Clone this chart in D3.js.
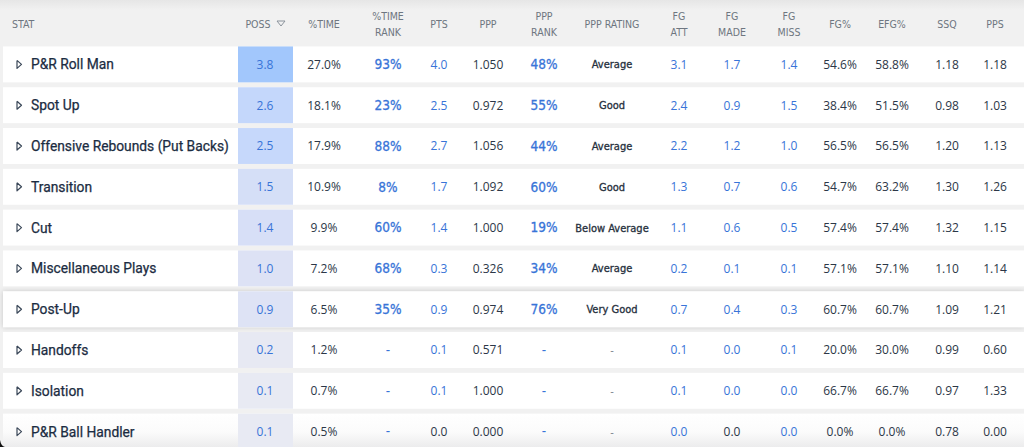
<!DOCTYPE html>
<html>
<head>
<meta charset="utf-8">
<script src="https://cdn.jsdelivr.net/npm/d3@7"></script>
<style>
  html, body { margin: 0; padding: 0; background: #f1f1f1; overflow: hidden; }
  svg { display: block; }
</style>
</head>
<body>
<div id="table"></div>
<script>
// play types, sorted by possessions
var categories = ["P&R Roll Man", "Spot Up", "Offensive Rebounds (Put Backs)", "Transition", "Cut",
  "Miscellaneous Plays", "Post-Up", "Handoffs", "Isolation", "P&R Ball Handler"];
var poss = [3.8, 2.6, 2.5, 1.5, 1.4, 1.0, 0.9, 0.2, 0.1, 0.1];
var pctTime = [27.0, 18.1, 17.9, 10.9, 9.9, 7.2, 6.5, 1.2, 0.7, 0.5];
var timeRank = [93, 23, 88, 8, 60, 68, 35, null, null, null];
var pts = [4.0, 2.5, 2.7, 1.7, 1.4, 0.3, 0.9, 0.1, 0.1, 0.0];
var ppp = [1.050, 0.972, 1.056, 1.092, 1.000, 0.326, 0.974, 0.571, 1.000, 0.000];
var pppRank = [48, 55, 44, 60, 19, 34, 76, null, null, null];
var pppRating = ["Average", "Good", "Average", "Good", "Below Average", "Average", "Very Good", null, null, null];
var fgAtt = [3.1, 2.4, 2.2, 1.3, 1.1, 0.2, 0.7, 0.1, 0.1, 0.0];
var fgMade = [1.7, 0.9, 1.2, 0.7, 0.6, 0.1, 0.4, 0.0, 0.0, 0.0];
var fgMiss = [1.4, 1.5, 1.0, 0.6, 0.5, 0.1, 0.3, 0.1, 0.0, 0.0];
var fgPct = [54.6, 38.4, 56.5, 54.7, 57.4, 57.1, 60.7, 20.0, 66.7, 0.0];
var efgPct = [58.8, 51.5, 56.5, 63.2, 57.4, 57.1, 60.7, 30.0, 66.7, 0.0];
var ssq = [1.18, 0.98, 1.20, 1.30, 1.32, 1.10, 1.09, 0.99, 0.97, 0.78];
var pps = [1.18, 1.03, 1.13, 1.26, 1.15, 1.14, 1.21, 0.60, 1.33, 0.00];

// header labels (two line ones split on |)
var headers = ["STAT", "POSS", "%TIME", "%TIME|RANK", "PTS", "PPP", "PPP|RANK", "PPP RATING",
  "FG|ATT", "FG|MADE", "FG|MISS", "FG%", "EFG%", "SSQ", "PPS"];

var width = 1024, height = 447;
var narrow = "'Liberation Sans Narrow', 'DejaVu Sans Condensed', sans-serif";

// column layout: key, center x, kind
var columns = [
  {key: "stat", x: 12},
  {key: "poss", x: 265, kind: "link"},
  {key: "pctTime", x: 324},
  {key: "timeRank", x: 388, kind: "rank"},
  {key: "pts", x: 439, kind: "link"},
  {key: "ppp", x: 488},
  {key: "pppRank", x: 544, kind: "rank"},
  {key: "pppRating", x: 612, kind: "rating"},
  {key: "fgAtt", x: 679, kind: "link"},
  {key: "fgMade", x: 732, kind: "link"},
  {key: "fgMiss", x: 789, kind: "link"},
  {key: "fgPct", x: 840},
  {key: "efgPct", x: 892},
  {key: "ssq", x: 947},
  {key: "pps", x: 995}
];

var fmt1 = d3.format(".1f"), fmt2 = d3.format(".2f"), fmt3 = d3.format(".3f");
var pct = function(v) { return fmt1(v) + "%"; };
var rk = function(v) { return v == null ? "-" : v + "%"; };

var rows = categories.map(function(c, i) {
  return {
    name: c, i: i,
    poss: fmt1(poss[i]), possVal: poss[i],
    pctTime: pct(pctTime[i]),
    timeRank: rk(timeRank[i]),
    pts: fmt1(pts[i]),
    ppp: fmt3(ppp[i]),
    pppRank: rk(pppRank[i]),
    pppRating: pppRating[i] == null ? "-" : pppRating[i],
    fgAtt: fmt1(fgAtt[i]),
    fgMade: fmt1(fgMade[i]),
    fgMiss: fmt1(fgMiss[i]),
    fgPct: pct(fgPct[i]),
    efgPct: pct(efgPct[i]),
    ssq: fmt2(ssq[i]),
    pps: fmt2(pps[i])
  };
});

// last row shows some zero cells as plain text
var plainCells = {"P&R Ball Handler": ["pts", "fgMade"]};

var y = d3.scaleBand().domain(categories).range([44, 44 + 10 * 40.8])
  .paddingInner(0.12).paddingOuter(0.06);
var possColor = d3.scaleLinear().domain([0.1, 1.0, 2.6, 3.8])
  .range(["#e8eaf3", "#dde2f5", "#c4d7fb", "#a2c7fc"]);

var svg = d3.select("#table").append("svg")
  .attr("width", width).attr("height", height);

var defs = svg.append("defs");
var f = defs.append("filter").attr("id", "lift")
  .attr("x", "-2%").attr("y", "-40%").attr("width", "104%").attr("height", "180%");
f.append("feDropShadow").attr("dx", 0).attr("dy", 0).attr("stdDeviation", 2.5)
  .attr("flood-color", "#000").attr("flood-opacity", 0.18);
var fade = defs.append("linearGradient").attr("id", "fade")
  .attr("x1", 0).attr("y1", 0).attr("x2", 0).attr("y2", 1);
fade.append("stop").attr("offset", "0%").attr("stop-color", "#ffffff");
fade.append("stop").attr("offset", "55%").attr("stop-color", "#fbfbfb");
fade.append("stop").attr("offset", "100%").attr("stop-color", "#ececed");
var topShade = defs.append("linearGradient").attr("id", "topShade")
  .attr("x1", 0).attr("y1", 0).attr("x2", 0).attr("y2", 1);
topShade.append("stop").attr("offset", "0%").attr("stop-color", "#e6e6e6");
topShade.append("stop").attr("offset", "100%").attr("stop-color", "#f1f1f1");

svg.append("rect").attr("x", 0).attr("y", 0).attr("width", width).attr("height", 10)
  .attr("fill", "url(#topShade)");

// header
var head = svg.append("g").attr("class", "header")
  .style("font-family", narrow)
  .style("font-size", "10.5px").attr("fill", "#6e7680");

head.selectAll("text")
  .data(headers)
  .enter().append("text")
  .attr("x", function(d, i) { return columns[i].x; })
  .attr("text-anchor", function(d, i) { return i == 0 ? "start" : "middle"; })
  .each(function(d, i) {
    var parts = d.split("|");
    var t = d3.select(this);
    parts.forEach(function(p, j) {
      t.append("tspan").attr("x", i == 1 ? columns[i].x - 7 : columns[i].x)
        .attr("y", parts.length == 1 ? 28 : 20 + j * 16)
        .text(p);
    });
  });

// sort arrow next to POSS
head.append("path")
  .attr("d", d3.line()([[277, 21], [285, 21], [281, 26], [277, 21]]))
  .attr("fill", "none").attr("stroke", "#8a929b").attr("stroke-width", 1);

// rows
var row = svg.selectAll(".row")
  .data(rows)
  .enter().append("g")
  .attr("class", "row")
  .attr("transform", function(d) { return "translate(0," + y(d.name) + ")"; });

row.append("rect")
  .attr("x", 3).attr("y", 0)
  .attr("width", width - 3)
  .attr("height", function(d) { return d.i == 9 ? height - y(d.name) : y.bandwidth(); })
  .attr("fill", function(d) { return d.i == 9 ? "url(#fade)" : "#fff"; })
  .attr("filter", function(d) { return d.name == "Post-Up" ? "url(#lift)" : null; });

row.append("rect")
  .attr("x", 238).attr("y", 0)
  .attr("width", 55)
  .attr("height", function(d) { return d.i == 9 ? height - y(d.name) : y.bandwidth(); })
  .attr("fill", function(d) { return possColor(d.possVal); });

// expand arrow
row.append("path")
  .attr("d", function() {
    var c = y.bandwidth() / 2;
    return d3.line()([[17, c - 4], [21.5, c], [17, c + 4], [17, c - 4]]);
  })
  .attr("fill", "none").attr("stroke", "#3a4758").attr("stroke-width", 1.2)
  .attr("stroke-linejoin", "round");

row.append("text")
  .attr("x", 31).attr("y", y.bandwidth() / 2)
  .attr("dy", "0.36em")
  .style("font-family", "Roboto, 'Noto Sans', sans-serif")
  .style("font-size", "13.8px")
  .attr("fill", "#1b2c42")
  .attr("stroke", "#1b2c42").attr("stroke-width", 0.25)
  .text(function(d) { return d.name; });

columns.slice(1).forEach(function(col) {
  var special = col.kind == "rank" || col.kind == "rating";
  row.append("text")
    .attr("x", col.x)
    .attr("y", y.bandwidth() / 2)
    .attr("dy", "0.36em")
    .attr("text-anchor", "middle")
    .style("font-family", special ? narrow : "'Open Sans', Lato, sans-serif")
    .style("font-size", col.kind == "rank" ? "13.5px" : col.kind == "rating" ? "11px" : "12px")
    .attr("fill", function(d) {
      var plain = plainCells[d.name] && plainCells[d.name].indexOf(col.key) >= 0;
      if (col.kind == "rating") return d[col.key] == "-" ? "#7d848e" : "#26303d";
      if ((col.kind == "link" || col.kind == "rank") && !plain) return "#3874d8";
      return "#2c3747";
    })
    .attr("stroke", function(d) {
      if (col.kind == "rank" && d[col.key] != "-") return "#3874d8";
      if (col.kind == "rating" && d[col.key] != "-") return "#26303d";
      return null;
    })
    .attr("stroke-width", col.kind == "rank" ? 0.3 : 0.3)
    .text(function(d) { return d[col.key]; });
});

// dark corner from the screenshot
svg.append("path")
  .attr("d", "M0,440 Q1,446 5,447 L0,447 Z")
  .attr("fill", "#111");
</script>
</body>
</html>
